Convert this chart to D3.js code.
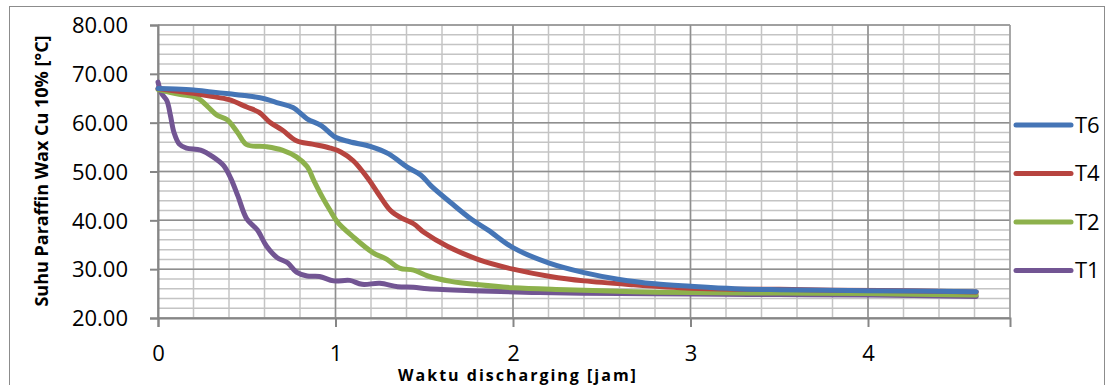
<!DOCTYPE html>
<html>
<head>
<meta charset="utf-8">
<script src="https://cdn.jsdelivr.net/npm/d3@7"></script>
<style>
  body { margin: 0; background: #fff; }
  text { font-family: "Open Sans", sans-serif; fill: #000; }
</style>
</head>
<body>
<script>
// chart data (hours, degC)
var t6Time = [0, 0.1, 0.2, 0.3, 0.4, 0.5, 0.6, 0.68, 0.76, 0.84, 0.92, 1.0, 1.08, 1.2, 1.3, 1.4, 1.48, 1.54, 1.65, 1.77, 1.86, 2.0, 2.2, 2.4, 2.6, 2.8, 3.0, 3.25, 3.5, 4.0, 4.61];
var t6Temp = [67.0, 66.9, 66.7, 66.3, 65.9, 65.5, 64.9, 64.0, 63.1, 60.8, 59.4, 57.0, 56.1, 55.1, 53.6, 51.0, 49.3, 47.0, 43.6, 40.1, 38.0, 34.4, 31.3, 29.3, 27.9, 27.0, 26.5, 26.0, 25.8, 25.6, 25.4];

var t4Time = [0, 0.1, 0.2, 0.3, 0.4, 0.5, 0.57, 0.63, 0.7, 0.78, 0.87, 0.97, 1.03, 1.1, 1.18, 1.24, 1.31, 1.37, 1.44, 1.5, 1.63, 1.81, 2.0, 2.21, 2.4, 2.68, 3.0, 3.25, 3.5, 3.8, 4.2, 4.61];
var t4Temp = [67.0, 66.5, 66.0, 65.4, 64.7, 63.2, 62.1, 60.1, 58.5, 56.3, 55.6, 54.8, 54.0, 52.2, 48.7, 45.5, 42.0, 40.5, 39.3, 37.5, 34.7, 31.9, 30.0, 28.5, 27.6, 26.8, 26.1, 25.9, 25.9, 25.7, 25.6, 25.3];

var t2Time = [0, 0.12, 0.22, 0.28, 0.33, 0.39, 0.45, 0.5, 0.61, 0.7, 0.78, 0.84, 0.88, 0.93, 0.97, 1.01, 1.1, 1.21, 1.29, 1.36, 1.44, 1.52, 1.65, 1.81, 2.0, 2.3, 2.68, 3.0, 3.5, 4.0, 4.61];
var t2Temp = [66.8, 65.8, 65.1, 63.3, 61.6, 60.6, 57.9, 55.5, 55.1, 54.4, 53.0, 51.0, 48.0, 44.5, 42.0, 39.7, 36.6, 33.4, 32.0, 30.2, 29.8, 28.6, 27.5, 26.8, 26.2, 25.8, 25.4, 25.2, 25.1, 25.0, 24.7];

var t1Time = [0, 0.02, 0.05, 0.07, 0.09, 0.12, 0.16, 0.24, 0.31, 0.37, 0.41, 0.45, 0.5, 0.56, 0.61, 0.67, 0.73, 0.78, 0.84, 0.91, 0.99, 1.08, 1.15, 1.25, 1.35, 1.44, 1.52, 1.77, 2.15, 2.6, 3.0, 3.5, 4.0, 4.61];
var t1Temp = [68.3, 66.0, 64.5, 61.5, 58.0, 55.6, 54.8, 54.4, 53.0, 51.2, 48.6, 45.0, 40.3, 38.0, 34.8, 32.4, 31.3, 29.4, 28.6, 28.5, 27.6, 27.7, 26.9, 27.1, 26.4, 26.3, 26.0, 25.6, 25.2, 25.0, 24.9, 24.8, 24.7, 24.4];

var seriesNames = ['T6', 'T4', 'T2', 'T1'];
var seriesColors = ['#4575b6', '#b7443f', '#8db14c', '#725593'];
var xTickValues = [0, 1, 2, 3, 4];
var yTickValues = [20, 30, 40, 50, 60, 70, 80];

var width = 1107, height = 385;
var plotLeft = 158, plotRight = 1010, plotTop = 25, plotBottom = 318;

var series = [
  {name: 'T6', time: t6Time, temp: t6Temp},
  {name: 'T4', time: t4Time, temp: t4Temp},
  {name: 'T2', time: t2Time, temp: t2Temp},
  {name: 'T1', time: t1Time, temp: t1Temp}
];

var svg = d3.select('body').append('svg')
  .attr('width', width)
  .attr('height', height);

// chart area border
svg.append('rect')
  .attr('x', 9.5).attr('y', 6.5)
  .attr('width', 1095).attr('height', 400)
  .attr('fill', 'none')
  .attr('stroke', '#8c8c8c')
  .attr('stroke-width', 1);

var x = d3.scaleLinear().domain([0, 4.8]).range([plotLeft, plotRight]);
var y = d3.scaleLinear().domain([20, 80]).range([plotBottom, plotTop]);

// minor grid
var g = svg.append('g');
g.selectAll('.vminor')
  .data(d3.range(0, 25).map(function(i) { return i * 0.2; }))
  .enter().append('line')
  .attr('x1', function(d) { return x(d); })
  .attr('x2', function(d) { return x(d); })
  .attr('y1', plotTop).attr('y2', plotBottom)
  .attr('stroke', '#c4c4c4').attr('stroke-width', 1.5);

g.selectAll('.hminor')
  .data(d3.range(0, 31).map(function(i) { return 20 + i * 2; }))
  .enter().append('line')
  .attr('x1', plotLeft).attr('x2', plotRight)
  .attr('y1', function(d) { return y(d); })
  .attr('y2', function(d) { return y(d); })
  .attr('stroke', '#c4c4c4').attr('stroke-width', 1.5);

// major grid
g.selectAll('.vmajor')
  .data(xTickValues)
  .enter().append('line')
  .attr('x1', function(d) { return x(d); })
  .attr('x2', function(d) { return x(d); })
  .attr('y1', plotTop).attr('y2', plotBottom)
  .attr('stroke', '#8f8f8f').attr('stroke-width', 1.5);

g.selectAll('.hmajor')
  .data(yTickValues)
  .enter().append('line')
  .attr('x1', plotLeft).attr('x2', plotRight)
  .attr('y1', function(d) { return y(d); })
  .attr('y2', function(d) { return y(d); })
  .attr('stroke', '#8f8f8f').attr('stroke-width', 1.5);

g.append('line')
  .attr('x1', plotRight).attr('x2', plotRight)
  .attr('y1', plotTop).attr('y2', plotBottom)
  .attr('stroke', '#9a9a9a').attr('stroke-width', 1.5);

// axes
var yAxis = d3.axisLeft(y)
  .tickValues(yTickValues)
  .tickSize(8)
  .tickPadding(24)
  .tickFormat(d3.format('.2f'));

var xAxis = d3.axisBottom(x)
  .tickValues(xTickValues)
  .tickSize(9)
  .tickPadding(16)
  .tickFormat(d3.format('d'));

var ya = svg.append('g')
  .attr('transform', 'translate(' + plotLeft + ',0)')
  .call(yAxis);
var xa = svg.append('g')
  .attr('transform', 'translate(0,' + plotBottom + ')')
  .call(xAxis);

[ya, xa].forEach(function(a) {
  a.select('.domain').attr('stroke', '#868686').attr('stroke-width', 2);
  a.selectAll('.tick line').attr('stroke', '#868686').attr('stroke-width', 2);
  a.selectAll('.tick text')
    .style('font-family', '"Open Sans", sans-serif')
    .style('font-size', '22px')
    .attr('fill', '#000');
});
ya.selectAll('.tick text').attr('dy', '0.35em').attr('x', -30);
xa.selectAll('.tick text').attr('dy', '0.8em');

// lines
var line = d3.line()
  .x(function(d) { return x(d[0]); })
  .y(function(d) { return y(d[1]); })
  .curve(d3.curveCatmullRom.alpha(0.5));

svg.selectAll('.series')
  .data(series.slice().reverse())
  .enter().append('path')
  .attr('d', function(s) { return line(d3.zip(s.time, s.temp)); })
  .attr('fill', 'none')
  .attr('stroke', function(s) { return seriesColors[seriesNames.indexOf(s.name)]; })
  .attr('stroke-width', 5)
  .attr('stroke-linejoin', 'round')
  .attr('stroke-linecap', 'round');

// legend
var legend = svg.selectAll('.legend')
  .data(seriesNames)
  .enter().append('g')
  .attr('transform', function(d, i) { return 'translate(1016,' + (125 + i * 48.5) + ')'; });

legend.append('line')
  .attr('x1', 0).attr('x2', 55)
  .attr('stroke', function(d, i) { return seriesColors[i]; })
  .attr('stroke-width', 5)
  .attr('stroke-linecap', 'round');

legend.append('text')
  .attr('x', 59).attr('dy', '0.36em')
  .style('font-size', '22px')
  .text(function(d) { return d; });

// axis titles
svg.append('text')
  .attr('x', 518).attr('y', 381)
  .attr('text-anchor', 'middle')
  .style('font-size', '16px').style('font-weight', 'bold')
  .style('letter-spacing', '2px')
  .text('Waktu discharging [jam]');

svg.append('text')
  .attr('transform', 'translate(48,171) rotate(-90)')
  .attr('text-anchor', 'middle')
  .style('font-size', '18px').style('font-weight', 'bold')
  .text('Suhu Paraffin Wax Cu 10% [°C]');
</script>
</body>
</html>
